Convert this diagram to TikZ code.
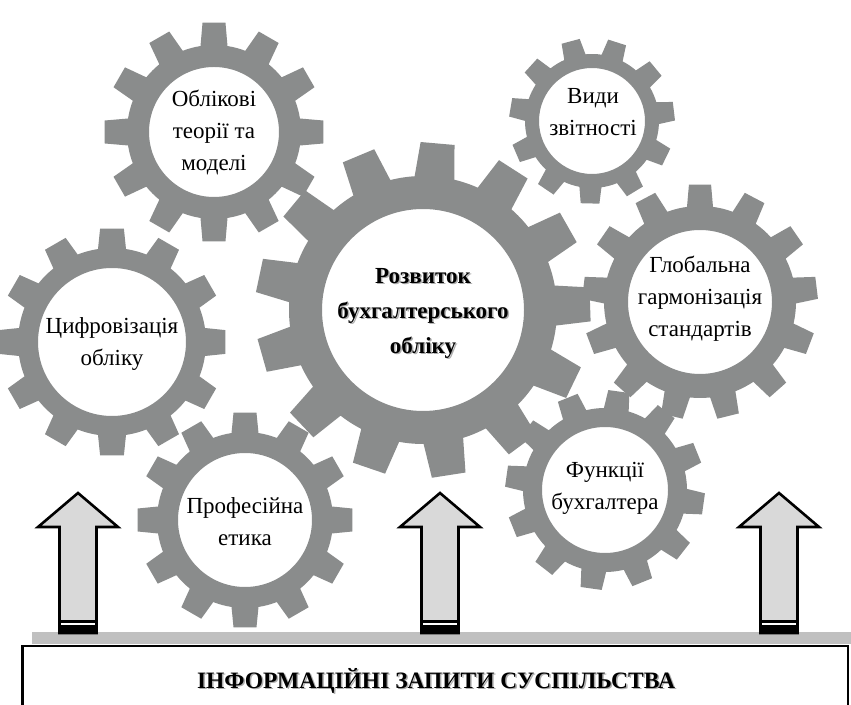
\documentclass[tikz,border=0pt]{standalone}
\usepackage{fontspec}
\setmainfont{Liberation Serif}
\definecolor{gearc}{RGB}{138,140,140}
\definecolor{arrowfill}{RGB}{217,217,217}
\definecolor{barc}{RGB}{192,192,192}
% #1 cx, #2 cy, #3 teeth, #4 root r, #5 tip r, #6 inner r, #7 phase, #8 tooth width
\newcommand{\gearring}[8]{%
  \fill[gearc,even odd rule]
    ({#1+#4*cos(#7-asin(#8/(2*#4)))},{#2+#4*sin(#7-asin(#8/(2*#4)))})
    \foreach \i in {0,...,\numexpr#3-1\relax}{
      -- ({#1+#4*cos(#7+\i*360/#3-asin(#8/(2*#4)))},{#2+#4*sin(#7+\i*360/#3-asin(#8/(2*#4)))})
      -- ({#1+#5*cos(#7+\i*360/#3-asin(0.85*#8/(2*#5)))},{#2+#5*sin(#7+\i*360/#3-asin(0.85*#8/(2*#5)))})
      -- ({#1+#5*cos(#7+\i*360/#3+asin(0.85*#8/(2*#5)))},{#2+#5*sin(#7+\i*360/#3+asin(0.85*#8/(2*#5)))})
      -- ({#1+#4*cos(#7+\i*360/#3+asin(#8/(2*#4)))},{#2+#4*sin(#7+\i*360/#3+asin(#8/(2*#4)))})
      arc[start angle={#7+\i*360/#3+asin(#8/(2*#4))}, delta angle={360/#3-2*asin(#8/(2*#4))}, radius=#4pt]
    } -- cycle
    (#1,#2) circle[radius=#6pt];
}
% block arrow centred at x=#1
\newcommand{\blockarrow}[1]{%
  \fill[arrowfill] (#1-18.5,71) -- (#1-18.5,177) -- (#1-40,177) -- (#1,211) -- (#1+40,177) -- (#1+18.5,177) -- (#1+18.5,71) -- cycle;
  \fill[black] (#1-18.5,71) rectangle (#1+18.5,84);
  \fill[white] (#1-17,78.6) rectangle (#1+17,81.4);
  \draw[line width=2.6pt,miter limit=10] (#1-18.5,71) -- (#1-18.5,177) -- (#1-40,177) -- (#1,211) -- (#1+40,177) -- (#1+18.5,177) -- (#1+18.5,71) -- cycle;
}
\begin{document}
\begin{tikzpicture}[x=1pt,y=1pt,
  gtext/.style={align=center,font=\fontsize{23}{32}\selectfont,inner sep=0pt},
  btext/.style={align=center,font=\bfseries\fontsize{23}{35}\selectfont,inner sep=0pt},
  shadowtext/.style={text=black!45,opacity=0.7}]
\useasboundingbox (0,0) rectangle (851,704);
\clip (0,0) rectangle (851,704);
\fill[white] (0,0) rectangle (851,704);

% gears
\gearring{214}{572}{12}{87}{110}{65}{0}{27}
\gearring{592}{583}{11}{67}{83}{53}{105}{22}
\gearring{423}{394}{13}{134}{168}{101}{85}{40}
\gearring{112}{362}{12}{94}{114}{74}{0}{28}
\gearring{700}{402}{13}{96}{118}{72}{90}{26}
\gearring{245}{184}{12}{88}{108}{67}{0}{27}
\gearring{605}{214}{12}{82}{100}{63}{82}{25}

% gear texts
\node[gtext] (t1) at (214,572) {Облікові\\теорії та\\моделі};
\node[gtext] (t2) at (593,592) {Види\\звітності};
\node[btext,shadowtext] (t3s) at (424.5,389.5) {Розвиток\\бухгалтерського\\обліку};
\node[btext] (t3) at (423,391) {Розвиток\\бухгалтерського\\обліку};
\node[gtext] (t4) at (112,360) {Цифровізація\\обліку};
\node[gtext] (t5) at (700,405) {Глобальна\\гармонізація\\стандартів};
\node[gtext] (t6) at (245,182) {Професійна\\етика};
\node[gtext] (t7) at (605,216) {Функції\\бухгалтера};

% bar and box
\fill[barc] (32,60) rectangle (851,71.5);
\draw[line width=2.6pt,fill=white] (22.5,-10) rectangle (848,58);
\node[font=\bfseries\fontsize{23.5}{26}\selectfont,text=black!45,opacity=0.7] (boxs) at (437.5,21.5) {ІНФОРМАЦІЙНІ ЗАПИТИ СУСПІЛЬСТВА};
\node[font=\bfseries\fontsize{23.5}{26}\selectfont] (box) at (436,23) {ІНФОРМАЦІЙНІ ЗАПИТИ СУСПІЛЬСТВА};

% arrows
\blockarrow{78}
\blockarrow{440}
\blockarrow{779}
\end{tikzpicture}
\end{document}
